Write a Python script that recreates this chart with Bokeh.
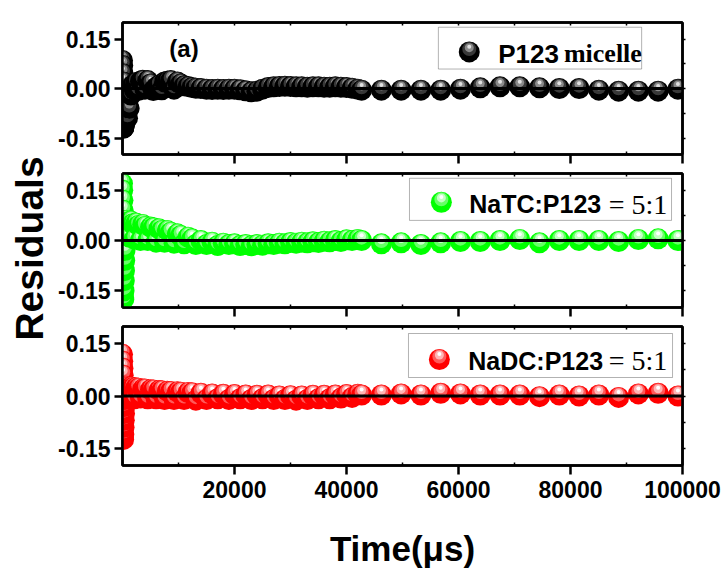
from bokeh.plotting import figure
from bokeh.layouts import column, row
from bokeh.models import (Range1d, FixedTicker, PrintfTickFormatter, LinearAxis,
                          ColumnDataSource, Label, Span, BoxAnnotation, CustomLabelingPolicy)
from bokeh.embed import file_html
from bokeh.resources import INLINE

# ---------------- data ----------------
TIME = [0, 40, 80, 120, 160, 200, 240, 280, 320, 360, 400, 440,
        600, 900, 1200, 1500, 1800, 2100, 2400, 2800, 3200, 3600, 4000, 4500, 5000,
        5500, 6000, 6500, 7000, 7500, 8000, 8600, 9200, 9800, 10400, 11000, 11700,
        12400, 13100,
        14000, 15000, 16000, 17000, 18000, 19000, 20000, 21000, 22000, 23000, 24000,
        25000, 26000, 27000, 28000, 29000, 30000, 31000, 32000, 33000, 34000, 35000,
        36000, 37000, 38000, 39000, 40000, 41000, 42000,
        42700, 46230, 49760, 53290, 56820, 60350, 63880, 67410, 70940, 74470, 78000,
        81530, 85060, 88590, 92120, 95650, 99180]

P123_MICELLE = [0.085, 0.07, 0.045, 0.02, -0.12, -0.12, -0.118, -0.115, -0.11, -0.105, -0.1, -0.1,
                -0.095, -0.09, -0.06, -0.02, 0.01, -0.004, 0.018, -0.006, 0.022, 0.025, -0.002, 0.024,
                0.014, -0.006, 0.004, 0.01, -0.004, 0.02, 0.022, 0.024, -0.002, 0.02, 0.014, 0.008,
                0.006, 0.003, 0.001,
                0.0, -0.002, -0.003, -0.002, -0.003, -0.002, -0.002, -0.004, -0.007, -0.01, -0.008,
                -0.002, 0.003, 0.005, 0.006, 0.007, 0.006, 0.005, 0.005, 0.004, 0.005, 0.005,
                0.004, 0.004, 0.005, 0.004, 0.003, 0.001, -0.002,
                -0.005, -0.005, -0.005, -0.005, -0.005, -0.002, 0.002, 0.005, 0.005, 0.002, 0.0,
                0.0, -0.005, -0.008, -0.008, -0.008, -0.002]

NATC_P123 = [0.17, 0.15, 0.12, 0.09, 0.06, -0.17, -0.175, -0.15, -0.12, -0.09, -0.06, -0.03,
             0.06, 0.055, 0.01, 0.058, 0.05, 0.005, 0.052, 0.045, 0.0, 0.048, 0.042, 0.0,
             0.04, 0.038, -0.005, 0.035, 0.03, -0.005, 0.03, 0.025, -0.008, 0.02, 0.015, -0.01,
             0.01, 0.005, -0.012,
             0.0, -0.012, -0.005, -0.015, -0.008, -0.012, -0.01, -0.015, -0.012, -0.016, -0.012,
             -0.014, -0.01, -0.012, -0.008, -0.01, -0.006, -0.008, -0.005, -0.007, -0.004, -0.006,
             -0.002, -0.004, 0.0, -0.003, 0.002, 0.0, 0.003,
             0.0, -0.01, -0.007, -0.012, -0.007, -0.003, -0.003, 0.0, 0.003, -0.007, 0.0,
             0.0, 0.0, -0.003, 0.003, 0.005, 0.0]

NADC_P123 = [0.12, 0.1, 0.08, 0.06, -0.12, -0.125, -0.11, -0.09, -0.07, -0.05, -0.03, -0.01,
             0.028, 0.025, -0.008, 0.026, 0.024, -0.008, 0.024, 0.022, -0.006, 0.02, 0.02, -0.008,
             0.018, 0.017, -0.008, 0.016, 0.015, -0.01, 0.014, 0.013, -0.01, 0.012, 0.011, -0.01,
             0.01, 0.009, -0.012,
             0.008, -0.01, 0.006, -0.008, 0.005, -0.01, 0.004, -0.008, 0.003, -0.01, 0.002,
             -0.008, 0.003, -0.01, 0.0, -0.01, 0.001, -0.012, 0.0, -0.01, 0.002, -0.008,
             0.002, -0.008, 0.003, -0.006, 0.004, -0.004, 0.005,
             0.003, 0.003, 0.006, 0.003, 0.008, 0.006, 0.003, 0.003, 0.003, -0.002, 0.003,
             0.0, 0.003, -0.004, 0.006, 0.008, 0.0]

SERIES = [P123_MICELLE, NATC_P123, NADC_P123]
LEGEND_MAIN = ["P123", "NaTC:P123", "NaDC:P123"]
LEGEND_TAIL = ["micelle", "= 5:1", "= 5:1"]
PANEL_TAG = "(a)"

Y_TICKS = [-0.15, 0.0, 0.15]
Y_RIGHT_TICKS = [-0.15, -0.075, 0.0, 0.075, 0.15]
X_TICKS = [20000, 40000, 60000, 80000, 100000]
X_MINOR = [10000, 30000, 50000, 70000, 90000]
X_TOP_TICKS = [10000, 20000, 30000, 40000, 50000, 60000, 70000, 80000, 90000]
X_LABEL = "Time(\u03bcs)"
Y_LABEL = "Residuals"

# ---------------- style / layout ----------------
SANS = "Liberation Sans"
SERIF = "Liberation Serif"
X0, X1 = 0, 100000
Y0, Y1 = -0.2, 0.2
W, H = 727, 584
STRIP = 55                     # separate strip holding the shared y title
LEFT, RIGHT = 120, 45          # frame edges measured from the window's left/right
FRAME_W = W - LEFT - RIGHT
# (border_top, frame_h, border_bottom)
PANELS = [(22, 139, 6), (6, 140, 7), (6, 139, 119)]

PALETTES = [
    ["#000000", "#383838", "#8a8a8a", "#e0e0e0"],
    ["#00ff00", "#66ff66", "#c4ffc4", "#ffffff"],
    ["#ff0000", "#ff5a5a", "#ffb4b4", "#ffffff"],
]
# sphere layers: (diameter px, lift px)
LAYERS = [(21, 0.0), (14, 3.0), (9, 4.5), (4, 5.5)]

# legend placement in window pixels, y relative to each panel's frame top
LEG_BOX = [(437, 641, 5, 49), (408, 671, 5, 49), (407, 672, 7, 51)]
LEG_BALL = [(468, 31), (440, 30), (438, 33)]
TEXT_SHIFT = 7  # Label draws its alphabetic baseline this much lower
LEG_TEXT = [(497, 563, 40), (468, 608, 39), (467, 608, 41)]
LEG_MAIN_SIZE = ["26px", "25px", "25px"]
LEG_TAIL_FONT = [(SERIF, "bold", "26px"), (SERIF, "normal", "28px"), (SERIF, "normal", "28px")]

xr = Range1d(X0, X1)
NO_LABELS = CustomLabelingPolicy(code="return []")


def px_to_x(px):
    return X0 + (px - LEFT) / FRAME_W * (X1 - X0)


def py_to_y(py, frame_h):
    return Y1 - py / frame_h * (Y1 - Y0)


def sphere_source(xs, ys, palette, frame_h):
    dy = (Y1 - Y0) / frame_h
    d = dict(x=[], y=[], size=[], color=[])
    for x, y in zip(xs, ys):
        for (sz, lift), col in zip(LAYERS, palette):
            d["x"].append(x)
            d["y"].append(y + lift * dy)
            d["size"].append(sz)
            d["color"].append(col)
    return ColumnDataSource(d)


def axis_common(ax):
    ax.axis_line_width = 2.5
    ax.axis_line_color = "black"
    ax.major_tick_line_width = 2.5
    ax.minor_tick_line_width = 1.5
    ax.major_label_text_font = SANS
    ax.major_label_text_font_style = "bold"
    ax.major_label_text_color = "black"


def hidden_labels(ax):
    ax.major_label_policy = NO_LABELS
    ax.major_label_text_font_size = "1px"
    ax.major_label_standoff = 0


# strip with the shared "Residuals" title
strip = figure(width=STRIP, height=H, x_range=Range1d(0, STRIP), y_range=Range1d(0, H),
               output_backend="svg", toolbar_location=None,
               x_axis_type=None, y_axis_type=None,
               min_border_left=0, min_border_right=0, min_border_top=0, min_border_bottom=0)
strip.outline_line_color = None
strip.background_fill_color = "white"
strip.border_fill_color = "white"
strip.add_layout(Label(x=29, y=H - 248, text=Y_LABEL, angle=90, angle_units="deg",
                       text_font=SANS, text_font_style="bold", text_font_size="39px",
                       text_align="center", text_baseline="middle", text_color="black"))

figs = []
for i, (vals, (bt, fh, bb)) in enumerate(zip(SERIES, PANELS)):
    p = figure(width=W - STRIP, height=bt + fh + bb, x_range=xr, y_range=Range1d(Y0, Y1),
               output_backend="svg", toolbar_location=None,
               x_axis_type=None, y_axis_type=None,
               min_border_left=LEFT - STRIP, min_border_right=RIGHT,
               min_border_top=bt, min_border_bottom=bb)
    p.background_fill_color = "white"
    p.border_fill_color = "white"
    p.outline_line_color = "black"
    p.outline_line_width = 2.5

    # bottom axis
    bx = LinearAxis(ticker=FixedTicker(ticks=X_TICKS, minor_ticks=X_MINOR),
                    formatter=PrintfTickFormatter(format="%d"))
    axis_common(bx)
    bx.major_tick_out = 9
    bx.major_tick_in = 0
    bx.minor_tick_in = 3
    bx.minor_tick_out = 0
    if i == 2:
        bx.major_label_text_font_size = "23px"
        bx.major_label_standoff = 6
        bx.axis_label = X_LABEL
        bx.axis_label_text_font = SANS
        bx.axis_label_text_font_style = "bold"
        bx.axis_label_text_font_size = "35px"
        bx.axis_label_text_color = "black"
        bx.axis_label_standoff = 28
    else:
        hidden_labels(bx)
    p.add_layout(bx, "below")

    # left axis
    ly = LinearAxis(ticker=FixedTicker(ticks=Y_TICKS, minor_ticks=[]),
                    formatter=PrintfTickFormatter(format="%.2f"))
    axis_common(ly)
    ly.major_tick_out = 8
    ly.major_tick_in = 0
    ly.major_label_text_font_size = "23px"
    ly.major_label_standoff = 4
    p.add_layout(ly, "left")

    # top axis
    tx = LinearAxis(ticker=FixedTicker(ticks=X_TOP_TICKS, minor_ticks=[]))
    axis_common(tx)
    tx.major_tick_in = 3
    tx.major_tick_out = 0
    tx.major_tick_line_width = 1.5
    hidden_labels(tx)
    p.add_layout(tx, "above")

    # right axis
    ry = LinearAxis(ticker=FixedTicker(ticks=Y_RIGHT_TICKS, minor_ticks=[]))
    axis_common(ry)
    ry.major_tick_in = 0
    ry.major_tick_out = 3
    ry.major_tick_line_width = 1.5
    hidden_labels(ry)
    p.add_layout(ry, "right")

    # data spheres
    src = sphere_source(TIME, vals, PALETTES[i], fh)
    p.scatter(x="x", y="y", size="size", fill_color="color", line_color=None,
              marker="circle", source=src)

    # zero reference line
    p.add_layout(Span(location=0, dimension="width", line_color="black", line_width=3))

    # legend box
    l, r, t, b = LEG_BOX[i]
    p.add_layout(BoxAnnotation(left=px_to_x(l), right=px_to_x(r),
                               top=py_to_y(t, fh), bottom=py_to_y(b, fh),
                               fill_color="white", fill_alpha=1.0,
                               line_color="black", line_width=1))
    bxp, byp = LEG_BALL[i]
    lsrc = sphere_source([px_to_x(bxp)], [py_to_y(byp, fh)], PALETTES[i], fh)
    lr = p.scatter(x="x", y="y", size="size", fill_color="color", line_color=None,
                   marker="circle", source=lsrc)
    lr.level = "overlay"
    tx1, tx2, tyb = LEG_TEXT[i]
    p.add_layout(Label(x=px_to_x(tx1), y=py_to_y(tyb - TEXT_SHIFT, fh), text=LEGEND_MAIN[i],
                       text_font=SANS, text_font_style="bold",
                       text_font_size=LEG_MAIN_SIZE[i],
                       text_baseline="alphabetic", text_align="left", text_color="black"))
    fnt, sty, fsz = LEG_TAIL_FONT[i]
    p.add_layout(Label(x=px_to_x(tx2), y=py_to_y(tyb - TEXT_SHIFT, fh), text=LEGEND_TAIL[i],
                       text_font=fnt, text_font_style=sty, text_font_size=fsz,
                       text_baseline="alphabetic", text_align="left", text_color="black"))
    if i == 0:
        p.add_layout(Label(x=px_to_x(167), y=py_to_y(34 - TEXT_SHIFT, fh), text=PANEL_TAG,
                           text_font=SANS, text_font_style="bold", text_font_size="24px",
                           text_baseline="alphabetic", text_align="left", text_color="black"))
    figs.append(p)

layout = row(strip, column(*figs, spacing=0), spacing=0)
open("out.html", "w").write(file_html(layout, INLINE))
